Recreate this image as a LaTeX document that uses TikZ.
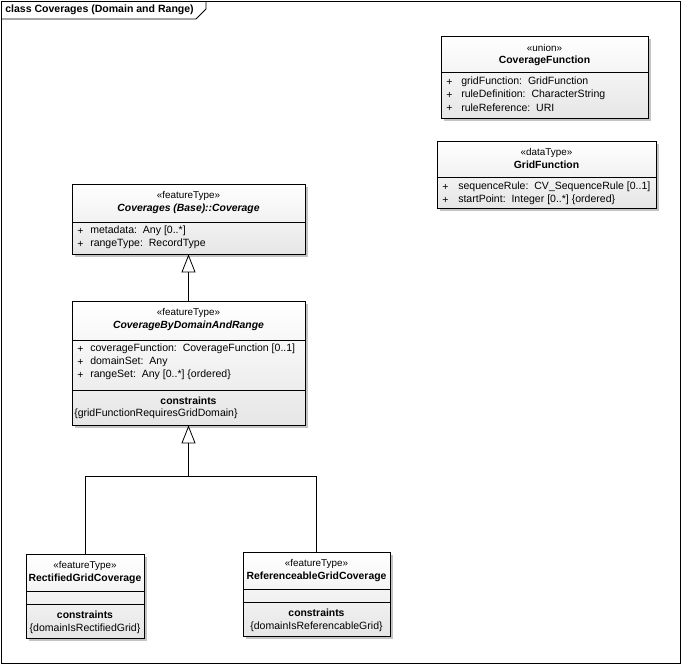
\documentclass[tikz,border=0pt]{standalone}
\usepackage{fontspec}
\setmainfont{Liberation Sans}
\usetikzlibrary{arrows.meta, fit, shadows}
\definecolor{shadowgray}{HTML}{C4C4C4}
\definecolor{boxgray}{HTML}{E6E6E6}
\tikzset{
  classbox/.style={
    rectangle, draw=black, line width=0.6pt, inner sep=0pt,
    top color=white, bottom color=boxgray,
    drop shadow={shadow xshift=2.25pt, shadow yshift=-2.25pt,
                 fill=shadowgray, opacity=1}
  },
  stereo/.style={inner sep=0pt, font=\fontsize{7.4}{8}\selectfont},
  cname/.style={inner sep=0pt, font=\fontsize{7.8}{9}\selectfont\bfseries},
  aname/.style={inner sep=0pt, font=\fontsize{7.8}{9}\selectfont\bfseries\itshape},
  attr/.style={anchor=west, inner sep=0pt, font=\fontsize{7.9}{9}\selectfont},
  cstr/.style={inner sep=0pt, font=\fontsize{7.9}{9}\selectfont},
  sepline/.style={line width=0.6pt},
  gen/.style={-{Triangle[open, length=13.5pt, width=10.5pt]}, line width=0.6pt}
}

\begin{document}
\begin{tikzpicture}[x=0.75pt, y=-0.75pt]
  \useasboundingbox (0,0) rectangle (682,665);
  % frame
  \draw[line width=0.6pt] (1,1) rectangle (680,663);
  \draw[line width=0.6pt] (1,19) -- (196,19) -- (206,9) -- (206,1);
  \node[attr, font=\fontsize{7.9}{9}\selectfont\bfseries] (title) at (5,10)
    {class Coverages (Domain and Range)};

  % Coverage
  \node[classbox, fit={(72,184) (305,254)}] (cov) {};
  \draw[sepline] (72,222) -- (305,222);
  \node[stereo] (cov-st) at (188.5,196) {«featureType»};
  \node[aname] (cov-nm) at (188.5,209) {Coverages (Base)::Coverage};
  \foreach \t [count=\i] in {metadata:\ \ Any [0..*],
                             rangeType:\ \ RecordType}{%
    \node[attr] (cov-p\i) at (77,218+13*\i) {+};
    \node[attr] (cov-a\i) at (90,218+13*\i) {\t};}

  % CoverageByDomainAndRange
  \node[classbox, fit={(72,301) (305,425)}] (cbdr) {};
  \draw[sepline] (72,340) -- (305,340);
  \draw[sepline] (72,390) -- (305,390);
  \node[stereo] (cbdr-st) at (188.5,313) {«featureType»};
  \node[aname] (cbdr-nm) at (188.5,326) {CoverageByDomainAndRange};
  \foreach \t [count=\i] in {coverageFunction:\ \ CoverageFunction [0..1],
                             domainSet:\ \ Any,
                             rangeSet:\ \ Any [0..*] \{ordered\}}{%
    \node[attr] (cbdr-p\i) at (77,336+13*\i) {+};
    \node[attr] (cbdr-a\i) at (90,336+13*\i) {\t};}
  \node[cname] (cbdr-ck) at (188.5,401) {constraints};
  \node[attr] (cbdr-c1) at (74,414) {\{gridFunctionRequiresGridDomain\}};

  % CoverageFunction
  \node[classbox, fit={(441,36) (648,118)}] (covfn) {};
  \draw[sepline] (441,72) -- (648,72);
  \node[stereo] (covfn-st) at (544.5,48) {«union»};
  \node[cname] (covfn-nm) at (544.5,61) {CoverageFunction};
  \foreach \t [count=\i] in {gridFunction:\ \ GridFunction,
                             ruleDefinition:\ \ CharacterString,
                             ruleReference:\ \ URI}{%
    \node[attr] (covfn-p\i) at (446,69+13*\i) {+};
    \node[attr] (covfn-a\i) at (461,69+13*\i) {\t};}

  % GridFunction
  \node[classbox, fit={(437,141) (656,208)}] (gridfn) {};
  \draw[sepline] (437,177) -- (656,177);
  \node[stereo] (gridfn-st) at (546.5,153) {«dataType»};
  \node[cname] (gridfn-nm) at (546.5,165) {GridFunction};
  \foreach \t [count=\i] in {sequenceRule:\ \ CV\_SequenceRule [0..1],
                             startPoint:\ \ Integer [0..*] \{ordered\}}{%
    \node[attr] (gridfn-p\i) at (442,174+13*\i) {+};
    \node[attr] (gridfn-a\i) at (458,174+13*\i) {\t};}

  % RectifiedGridCoverage
  \node[classbox, fit={(26,554) (144,638)}] (rgc) {};
  \draw[sepline] (26,591) -- (144,591);
  \draw[sepline] (26,604) -- (144,604);
  \node[stereo] (rgc-st) at (85,566) {«featureType»};
  \node[cname] (rgc-nm) at (85,579) {RectifiedGridCoverage};
  \node[cname] (rgc-ck) at (85,615) {constraints};
  \node[cstr] (rgc-c1) at (85,629) {\{domainIsRectifiedGrid\}};

  % ReferenceableGridCoverage
  \node[classbox, fit={(243,552) (390,636)}] (refgc) {};
  \draw[sepline] (243,589) -- (390,589);
  \draw[sepline] (243,602) -- (390,602);
  \node[stereo] (refgc-st) at (316.5,564) {«featureType»};
  \node[cname] (refgc-nm) at (316.5,577) {ReferenceableGridCoverage};
  \node[cname] (refgc-ck) at (316.5,613) {constraints};
  \node[cstr] (refgc-c1) at (316.5,627) {\{domainIsReferencableGrid\}};

  % generalizations
  \draw[gen] (cbdr.north) -- (cov.south);
  \coordinate (tree) at (188.5,476);
  \draw[line width=0.6pt] (rgc.north) |- (tree);
  \draw[line width=0.6pt] (refgc.north) |- (tree);
  \draw[gen] (tree) -- (cbdr.south);
\end{tikzpicture}
\end{document}
